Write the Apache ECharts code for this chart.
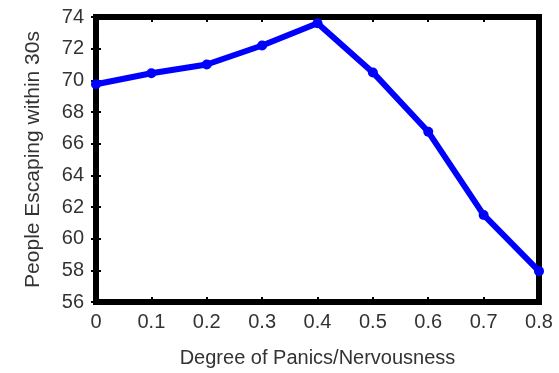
<!DOCTYPE html>
<html>
<head>
<meta charset="utf-8">
<script src="https://cdn.jsdelivr.net/npm/echarts@6/dist/echarts.min.js"></script>
<style>
  html, body { margin: 0; padding: 0; background: #fff; }
  #plot { width: 559px; height: 373px; }
</style>
</head>
<body>
<div id="plot"></div>
<script>
// data
var panicLevels = [0, 0.1, 0.2, 0.3, 0.4, 0.5, 0.6, 0.7, 0.8];
var peopleEscaping = [69.75, 70.45, 71.0, 72.2, 73.6, 70.5, 66.75, 61.5, 57.95];

var myChart = echarts.init(document.getElementById('plot'));

var labelFont = { fontFamily: 'Liberation Sans', fontSize: 20, color: '#333' };
var tickStyle = { show: true, inside: true, length: 5, lineStyle: { color: '#000', width: 2 } };

var option = {
  animation: false,
  grid: { left: 96, right: 20, top: 17, bottom: 71, show: true, borderColor: '#000', borderWidth: 6 },
  xAxis: [{
    type: 'value', min: 0, max: 0.8, interval: 0.1,
    name: 'Degree of Panics/Nervousness', nameLocation: 'middle', nameGap: 46,
    nameTextStyle: { fontFamily: 'Liberation Sans', fontSize: 20, color: '#333' },
    axisLine: { show: false },
    axisTick: tickStyle,
    axisLabel: Object.assign({ margin: 10, formatter: function (v) { return v === 0 ? '0' : v.toFixed(1); } }, labelFont),
    splitLine: { show: false }
  }, {
    type: 'value', min: 0, max: 0.8, interval: 0.1, position: 'top',
    axisLine: { show: false },
    axisTick: tickStyle,
    axisLabel: { show: false }, splitLine: { show: false }
  }],
  yAxis: [{
    type: 'value', min: 56, max: 74, interval: 2,
    name: 'People Escaping within 30s', nameLocation: 'middle', nameGap: 52,
    nameTextStyle: { fontFamily: 'Liberation Sans', fontSize: 21, color: '#333' },
    axisLine: { show: false },
    axisTick: tickStyle,
    axisLabel: Object.assign({ margin: 12 }, labelFont),
    splitLine: { show: false }
  }, {
    type: 'value', min: 56, max: 74, interval: 2, position: 'right',
    axisLine: { show: false },
    axisTick: tickStyle,
    axisLabel: { show: false }, splitLine: { show: false }
  }],
  series: [{
    type: 'line',
    data: panicLevels.map(function (x, i) { return [x, peopleEscaping[i]]; }),
    lineStyle: { color: '#0000ff', width: 6 },
    itemStyle: { color: '#0000ff' },
    symbol: 'circle', symbolSize: 10,
    clip: false
  }]
};

myChart.setOption(option);
</script>
</body>
</html>
